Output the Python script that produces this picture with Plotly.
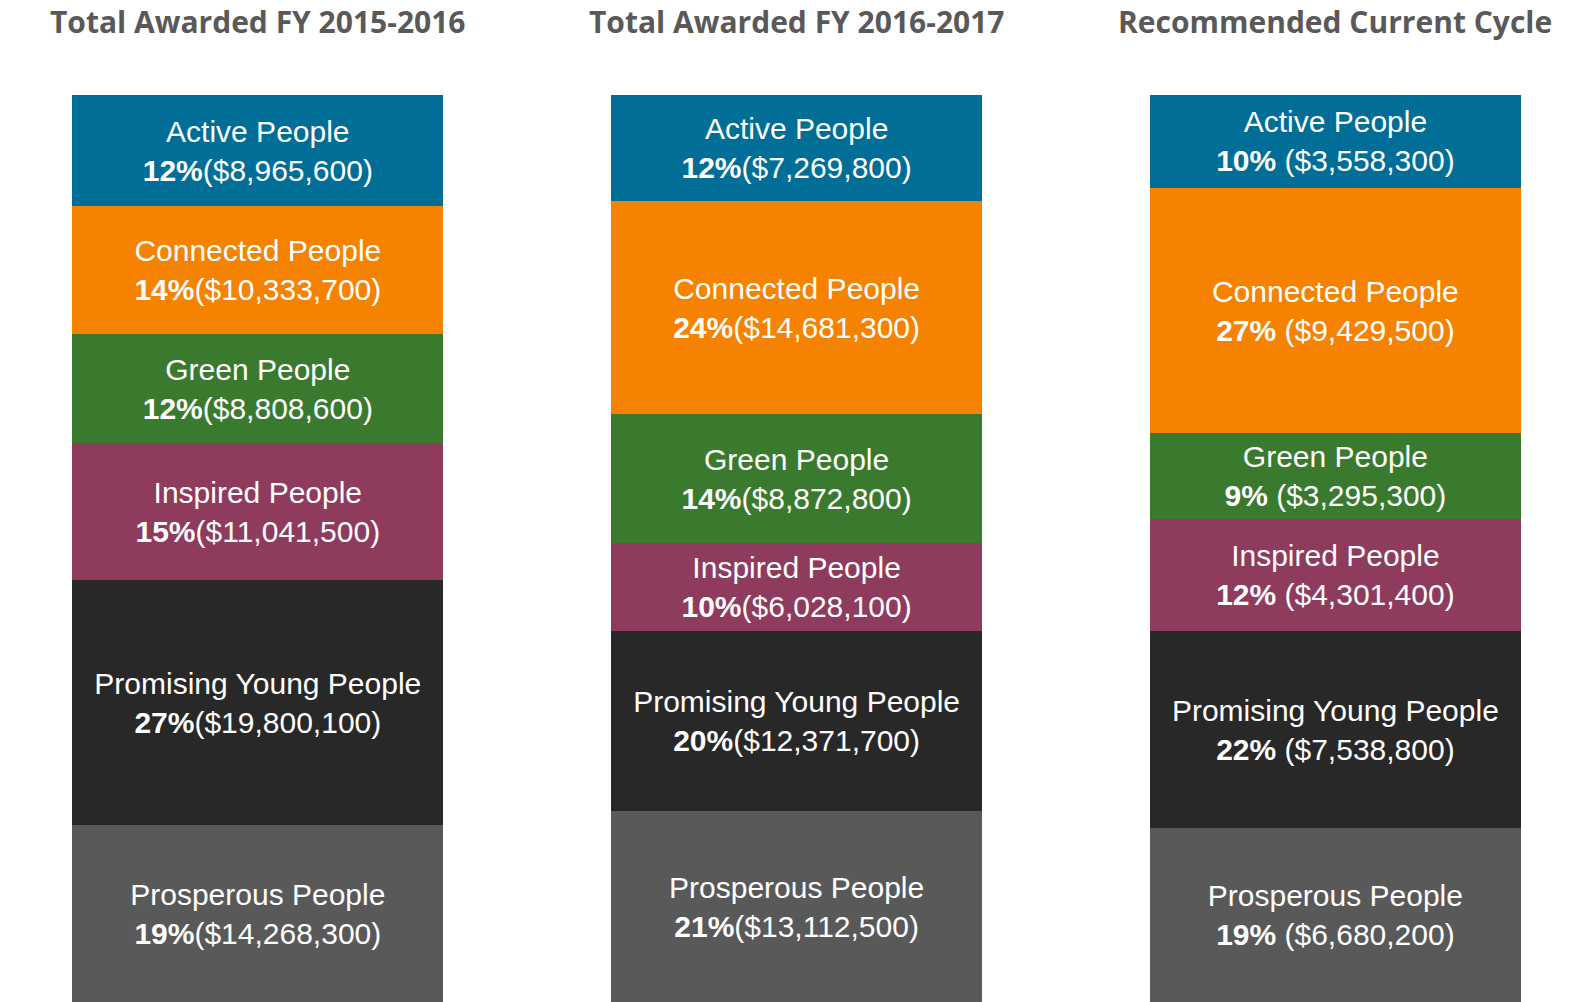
import plotly.graph_objects as go

columns = ["Total Awarded FY 2015-2016", "Total Awarded FY 2016-2017", "Recommended Current Cycle"]
categories = ["Prosperous People", "Promising Young People", "Inspired People",
              "Green People", "Connected People", "Active People"]
colors = ["#595959", "#282828", "#8E3B5D", "#3A7A2E", "#F58200", "#006E96"]

values = {
    "Prosperous People":      [14268300, 13112500, 6680200],
    "Promising Young People": [19800100, 12371700, 7538800],
    "Inspired People":        [11041500, 6028100, 4301400],
    "Green People":           [8808600, 8872800, 3295300],
    "Connected People":       [10333700, 14681300, 9429500],
    "Active People":          [8965600, 7269800, 3558300],
}
percents = {
    "Prosperous People":      [19, 21, 19],
    "Promising Young People": [27, 20, 22],
    "Inspired People":        [15, 10, 12],
    "Green People":           [12, 14, 9],
    "Connected People":       [14, 24, 27],
    "Active People":          [12, 12, 10],
}
separators = ["", "", " "]

xpos = [0, 1, 2]
label_font = "Liberation Sans"

fig = go.Figure()
for cat, col in zip(categories, colors):
    texts = [f"{cat}<br><b>{p}%</b>{sep}(${v:,})"
             for p, v, sep in zip(percents[cat], values[cat], separators)]
    fig.add_trace(go.Bar(
        x=xpos, y=values[cat], name=cat,
        marker=dict(color=col, line=dict(width=0)),
        width=0.6886,
        text=texts, texttemplate="%{text}",
        textposition="inside", insidetextanchor="middle", textangle=0,
        constraintext="none",
        textfont=dict(family=label_font, size=30, color="white"),
        insidetextfont=dict(family=label_font, size=30, color="white"),
        hoverinfo="skip",
    ))

for x, title in zip(xpos, columns):
    fig.add_annotation(
        x=x, y=1, xref="x", yref="paper", text=f"<b>{title}</b>", showarrow=False,
        yanchor="middle", yshift=74,
        font=dict(family="Open Sans", size=30, color="#595959"),
    )

fig.update_layout(
    width=1576, height=1002,
    font=dict(family=label_font),
    barmode="stack", barnorm="percent",
    showlegend=False,
    paper_bgcolor="white", plot_bgcolor="white",
    margin=dict(l=0, r=0, t=95, b=0),
    xaxis=dict(range=[-0.4785, 2.4466], visible=False, fixedrange=True),
    yaxis=dict(range=[0, 100], visible=False, fixedrange=True),
)

fig.write_html("out.html", config={"displayModeBar": False},
               post_script="document.body.style.margin='0';document.body.style.overflow='hidden';")
